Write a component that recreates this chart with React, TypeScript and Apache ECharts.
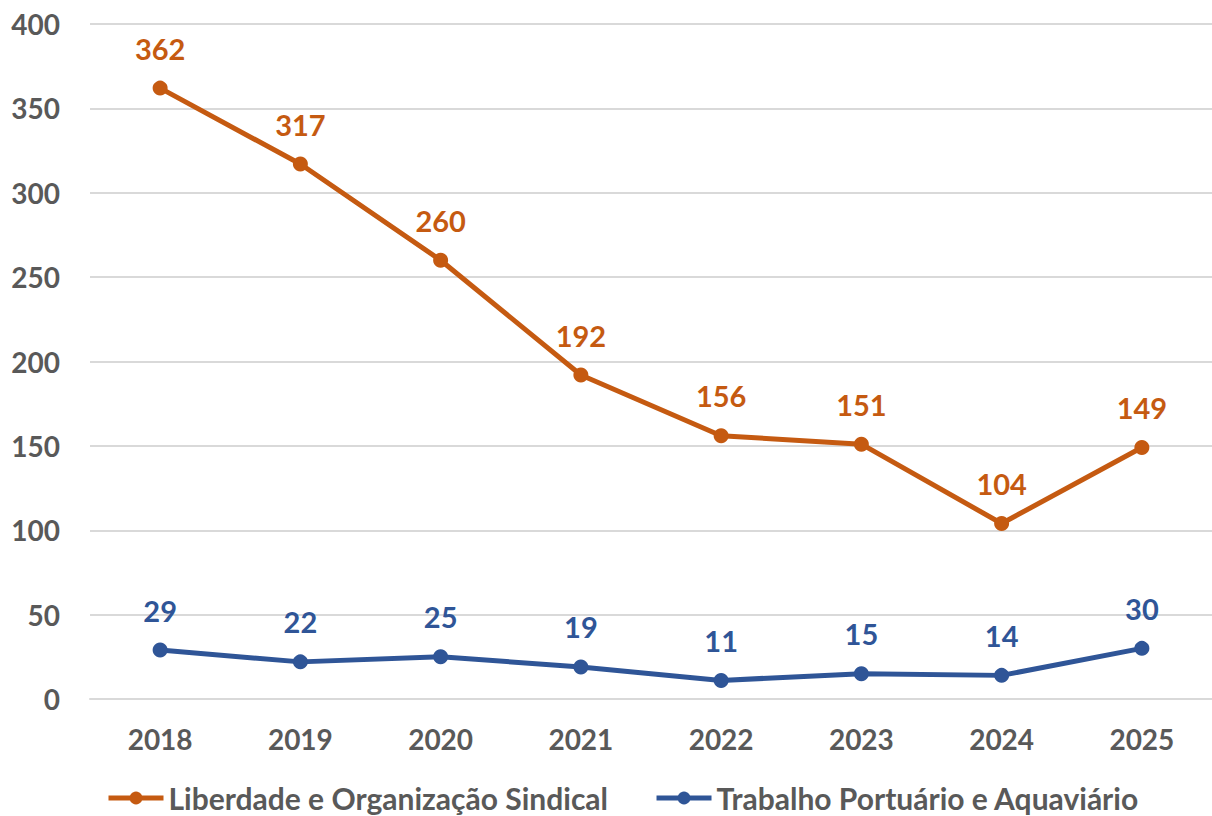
import React, { useEffect, useRef } from "react";
import * as echarts from "echarts";

const years = ["2018", "2019", "2020", "2021", "2022", "2023", "2024", "2025"];
const liberdade = [362, 317, 260, 192, 156, 151, 104, 149];
const trabalho = [29, 22, 25, 19, 11, 15, 14, 30];
const seriesNames = ["Liberdade e Organização Sindical", "Trabalho Portuário e Aquaviário"];
const colors = ["#C55A11", "#2F5597"];

const FONT = "Lato";

export default function App() {
  const ref = useRef<HTMLDivElement>(null);
  useEffect(() => {
    if (!ref.current) return;
    const chart = echarts.init(ref.current, null, { renderer: "svg" });
    const mkSeries = (name: string, data: number[], color: string) => ({
      name,
      type: "line",
      data,
      symbol: "circle",
      symbolSize: 15,
      lineStyle: { width: 5, color },
      itemStyle: { color },
      label: {
        show: true,
        position: "top",
        distance: 18,
        color,
        fontFamily: FONT,
        fontWeight: "bold",
        fontSize: 29,
      },
    });
    chart.setOption({
      animation: false,
      color: colors,
      grid: { left: 90, right: 0, top: 24, bottom: 117, containLabel: false },
      xAxis: {
        type: "category",
        data: years,
        boundaryGap: true,
        axisLine: { show: true, lineStyle: { color: "#D9D9D9", width: 2 } },
        axisTick: { show: false },
        axisLabel: {
          color: "#595959",
          fontFamily: FONT,
          fontWeight: "bold",
          fontSize: 28,
          margin: 26,
        },
      },
      yAxis: {
        type: "value",
        min: 0,
        max: 400,
        interval: 50,
        axisLine: { show: false },
        axisTick: { show: false },
        splitLine: { lineStyle: { color: "#D9D9D9", width: 2 } },
        axisLabel: {
          color: "#595959",
          fontFamily: FONT,
          fontWeight: "bold",
          fontSize: 28,
          margin: 30,
        },
      },
      legend: {
        bottom: -2,
        left: 101,
        itemWidth: 55,
        itemHeight: 16,
        itemGap: 46,
        lineStyle: { width: 5 },
        textStyle: {
          color: "#595959",
          fontFamily: FONT,
          fontWeight: "bold",
          fontSize: 30,
        },
        data: seriesNames,
      },
      series: [
        mkSeries(seriesNames[0], liberdade, colors[0]),
        mkSeries(seriesNames[1], trabalho, colors[1]),
      ],
    });
    return () => chart.dispose();
  }, []);
  return (
    <div
      ref={ref}
      style={{ position: "fixed", left: 0, top: 0, width: 1212, height: 816, background: "#fff" }}
    />
  );
}
